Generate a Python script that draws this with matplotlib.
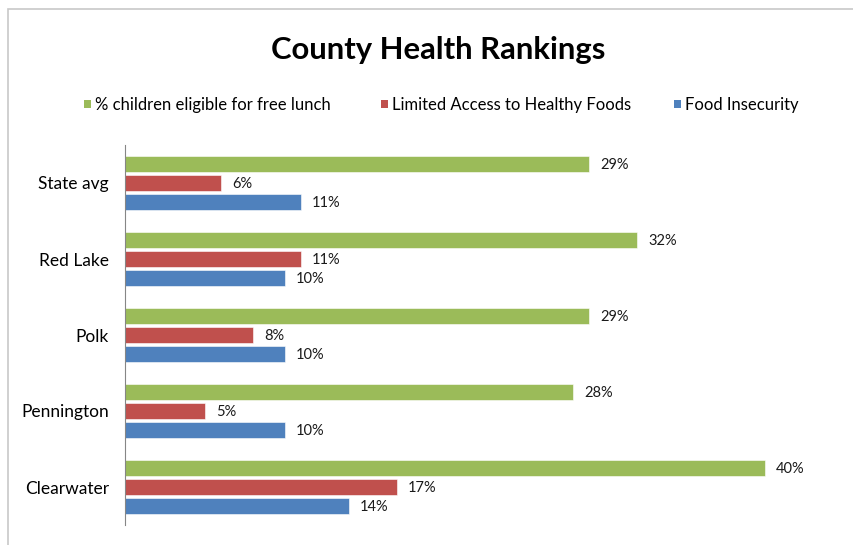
import matplotlib.pyplot as plt
from matplotlib.patches import Rectangle
import numpy as np

# chart data
counties = ['State avg', 'Red Lake', 'Polk', 'Pennington', 'Clearwater']
free_lunch = [29, 32, 29, 28, 40]
limited_access = [6, 11, 8, 5, 17]
food_insecurity = [11, 10, 10, 10, 14]
series_names = ['% children eligible for free lunch',
                'Limited Access to Healthy Foods',
                'Food Insecurity']
colors = ['#9BBB59', '#C0504D', '#4F81BD']

plt.rcParams['font.family'] = ['Lato', 'DejaVu Sans']

fig = plt.figure(figsize=(8.54, 5.45), dpi=100)
W, H = 854, 545

# outer chart frame (cut off at right/bottom like the screenshot)
fig.patches.append(Rectangle((8 / W, -0.1), 1.2, 1 - 9 / H + 0.1,
                             transform=fig.transFigure, fill=False,
                             edgecolor='#c8c8c8', linewidth=1.2))

ax = fig.add_axes([125 / W, 1 - 525 / H, 720 / W, 380 / H])

y = np.arange(len(counties))
offsets = [-0.25, 0.0, 0.25]
bar_h = 0.2
for vals, off, col in zip([free_lunch, limited_access, food_insecurity], offsets, colors):
    bars = ax.barh(y + off, vals, height=bar_h, color=col, edgecolor='white', linewidth=0.4)
    for b, v in zip(bars, vals):
        ax.annotate(f'{v}%', (b.get_width(), b.get_y() + b.get_height() / 2),
                    xytext=(8, -1), textcoords='offset points',
                    ha='left', va='center', fontsize=10.5, color='#1a1a1a')

ax.set_xlim(0, 45)
ax.set_ylim(4.5, -0.5)
ax.set_yticks(y)
ax.set_yticklabels(counties, fontsize=12.5)
ax.tick_params(axis='y', length=0, pad=11.5)
ax.set_xticks([])
for s in ['top', 'right', 'bottom']:
    ax.spines[s].set_visible(False)
ax.spines['left'].set_color('#868686')

fig.text(438 / W, 1 - 50 / H, 'County Health Rankings', ha='center', va='center',
         fontsize=22.3, fontweight='bold')

# legend drawn by hand so the three entries sit where they do in the original
legend_x = [84, 381, 674]
for lx, name, col in zip(legend_x, series_names, colors):
    fig.patches.append(Rectangle((lx / W, 1 - 108 / H), 7 / W, 8 / H,
                                 transform=fig.transFigure, facecolor=col, edgecolor='none'))
    fig.text((lx + 11) / W, 1 - 105 / H, name, ha='left', va='center', fontsize=12)

fig.savefig('out.png', dpi=100)
